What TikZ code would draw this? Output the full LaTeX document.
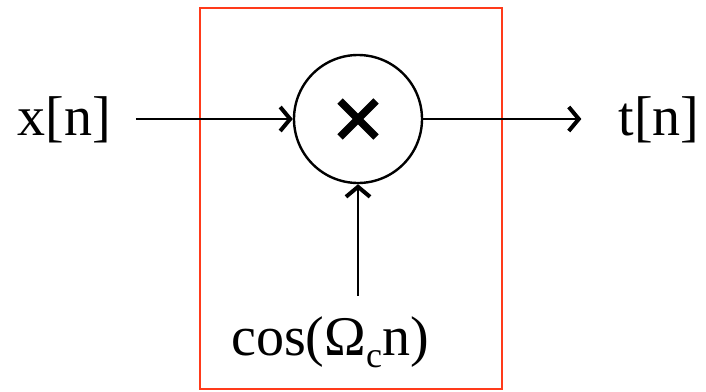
\documentclass[tikz,border=0pt]{standalone}
\usepackage{fontspec}
\setmainfont{Liberation Serif}
\usetikzlibrary{arrows.meta}
\definecolor{boxred}{HTML}{FF3A1A}
\tikzset{
  lbl/.style={inner sep=0pt, anchor=base, font=\fontsize{56}{60}\selectfont},
  arr/.style={line width=2.6pt, -{Straight Barb[length=10pt,width=24pt,line width=4pt]}},
}
\begin{document}
\begin{tikzpicture}[x=1pt,y=-1pt]
\useasboundingbox (0,0) rectangle (706,391);
\draw[boxred, line width=2.2pt] (200,8) rectangle (502,389);
\node[draw, circle, line width=2.4pt, minimum size=128pt, inner sep=0pt] (mul) at (358,119) {};
\draw[line width=7.5pt] ([shift={(-18,-18)}]mul.center) -- ([shift={(18,18)}]mul.center);
\draw[line width=7.5pt] ([shift={(-18,18)}]mul.center) -- ([shift={(18,-18)}]mul.center);
\node[lbl] (xn) at (64,135) {x[n]};
\node[lbl] (tn) at (659,135) {t[n]};
\node[lbl] (cos) at (330,355) {cos(Ω\raisebox{-12pt}{\fontsize{36}{40}\selectfont c}n)};
\draw[arr, shorten <=25pt] (xn.east |- mul) -- (mul);
\draw[arr, shorten >=37pt] (mul) -- (mul -| tn.west);
\draw[arr, shorten <=20pt] (mul |- cos.north) -- (mul);
\end{tikzpicture}
\end{document}
